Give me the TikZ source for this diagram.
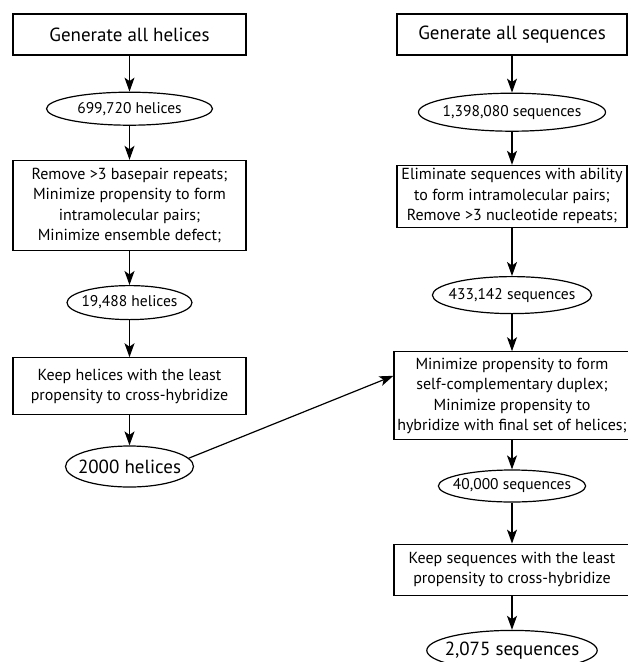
\documentclass[tikz,border=0pt]{standalone}
\usepackage{fontspec}
\setmainfont{PT Sans}
\usetikzlibrary{positioning,shapes.geometric,arrows.meta}

\begin{document}
\begin{tikzpicture}[-,>={Stealth[length=14pt,width=10pt,inset=3.5pt]},x=1pt,y=1pt,line width=1.2pt,
  proc box/.style={rectangle,draw,align=center,minimum width=233pt,inner sep=1pt,font=\fontsize{16}{20.5}\selectfont},
  count node/.style={ellipse,draw,inner xsep=-7pt,inner ysep=0pt,font=\fontsize{15.5}{18}\selectfont},
  big text/.style={font=\fontsize{19}{22}\selectfont}]

            \useasboundingbox (0,0) rectangle (628,-662);

            % helices
            \node[proc box, big text, minimum height=41pt] (gh) at (129.5,-34.5) {Generate all helices};
            \node[count node, minimum width=166pt, minimum height=33pt] (h1) [below=36pt of gh] {699,720 helices};
            \node[proc box, minimum height=90pt] (rm) [below=34pt of h1] {Remove >3 basepair repeats;\\ Minimize propensity to form\\ intramolecular pairs;\\ Minimize ensemble defect;};
            \node[count node, minimum width=125pt, minimum height=34pt] (h2) [below=34pt of rm] {19,488 helices};
            \node[proc box, minimum height=57pt] (kh) [below=37pt of h2] {Keep helices with the least\\ propensity to cross-hybridize};
            \node[count node, big text, minimum width=128pt, minimum height=41pt] (h3) [below=30pt of kh] {2000 helices};

            % sequences
            \node[proc box, big text, minimum width=230pt, minimum height=41pt] (gs) at (512,-34.5) {Generate all sequences};
            \node[count node, minimum width=187pt, minimum height=38pt] (s1) [below=37pt of gs] {1,398,080 sequences};
            \node[proc box, minimum width=230pt, minimum height=62pt] (el) [below=33pt of s1] {Eliminate sequences with ability\\ to form intramolecular pairs;\\ Remove >3 nucleotide repeats;};
            \node[count node, minimum width=149pt, minimum height=37pt] (s2) [below=48pt of el] {433,142 sequences};
            \node[proc box, minimum width=236pt, minimum height=88pt] (mp) [below=37pt of s2] {Minimize propensity to form\\ self-complementary duplex;\\ Minimize propensity to\\ hybridize with final set of helices;};
            \node[count node, minimum width=142pt, minimum height=32pt] (s3) [below=29pt of mp] {40,000 sequences};
            \node[proc box, minimum width=236pt, minimum height=51pt] (ks) [below=41pt of s3] {Keep sequences with the least\\ propensity to cross-hybridize};
            \node[count node, big text, minimum width=154pt, minimum height=40pt] (s4) [below=34pt of ks] {2,075 sequences};

            \draw[->] (gh) to (h1);
            \draw[->] (h1) to (rm);
            \draw[->] (rm) to (h2);
            \draw[->] (h2) to (kh);
            \draw[->] (kh) to (h3);

            \draw[->] (gs) to (s1);
            \draw[->] (s1) to (el);
            \draw[->] (el) to (s2);
            \draw[->] (s2) to (mp);
            \draw[->] (mp) to (s3);
            \draw[->] (s3) to (ks);
            \draw[->] (ks) to (s4);

            \draw[->] (h3.8) to ([yshift=20pt]mp.west);

            ;
        \end{tikzpicture}
\end{document}
